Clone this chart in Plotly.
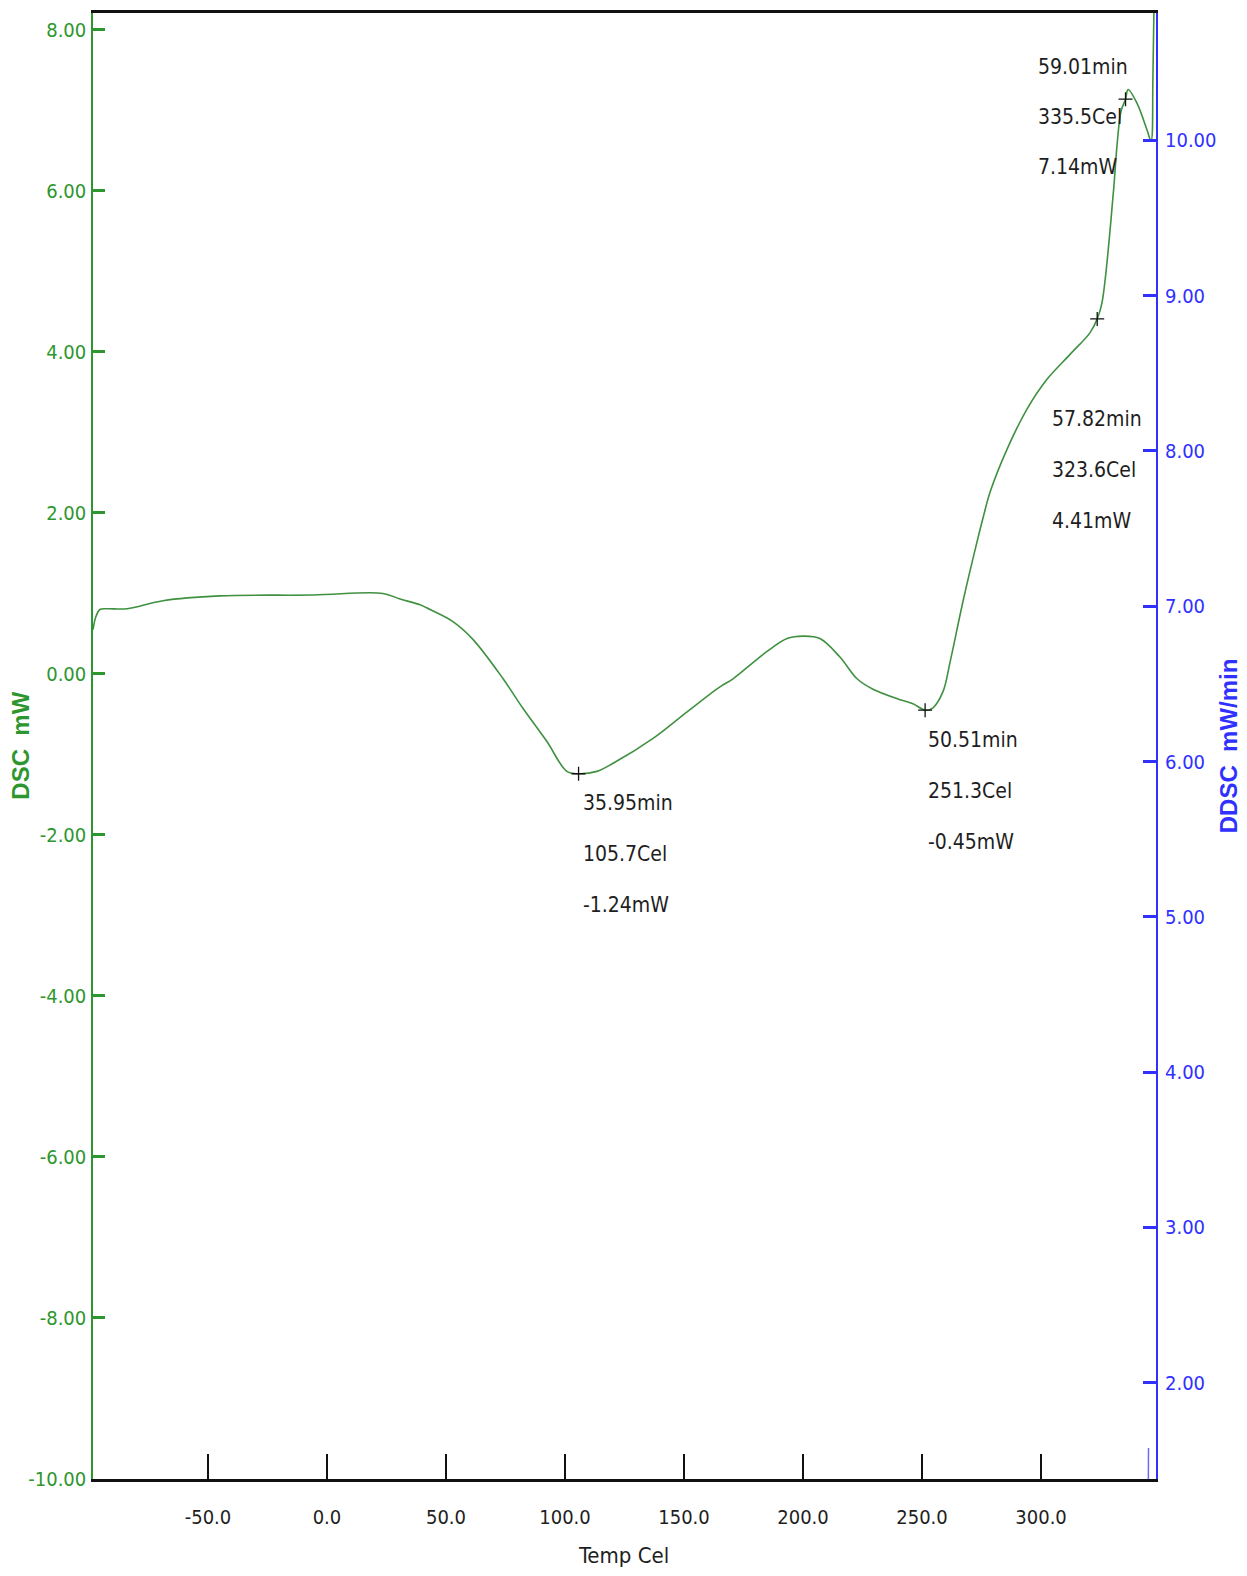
import plotly.graph_objects as go

# DSC heat-flow curve (temperature in Cel, heat flow in mW)
temp_c = [-98.3, -97.1, -95.4, -92.4, -84.0, -68.9, -45.0, -5.9, 23.5, 30.7,
          39.1, 43.3, 52.9, 61.3, 74.0, 82.4, 92.4, 100.8, 105.7, 113.4,
          120.2, 137.0, 151.3, 165.1, 170.6, 184.9, 193.3, 200.0, 207.1, 215.5,
          222.7, 229.4, 240.8, 246.2, 251.3, 254.6, 258.8, 261.8, 267.2, 273.1,
          276.0, 278.6, 285.7, 294.1, 302.5, 312.2, 320.6, 323.6, 325.6, 330.3,
          332.0, 333.6, 335.5, 336.6, 340.3, 344.5, 346.2, 347.0, 347.6, 348.2]
dsc_mw = [0.55, 0.71, 0.80, 0.81, 0.81, 0.91, 0.97, 0.98, 1.00, 0.93,
          0.86, 0.80, 0.65, 0.43, -0.06, -0.43, -0.84, -1.21, -1.24, -1.21,
          -1.11, -0.80, -0.47, -0.16, -0.06, 0.28, 0.44, 0.47, 0.44, 0.21,
          -0.06, -0.19, -0.32, -0.37, -0.45, -0.42, -0.22, 0.15, 0.90, 1.64,
          1.98, 2.26, 2.79, 3.29, 3.66, 3.97, 4.24, 4.41, 4.61, 5.95,
          6.59, 6.99, 7.14, 7.26, 7.09, 6.76, 6.62, 7.40, 8.60, 10.0]

# DDSC curve (mW/min) – only its tail reaches the visible range
ddsc_temp = [345.05, 345.15]
ddsc_val = [1.20, 1.58]

# Peak / event labels
peak_time = ["35.95min", "50.51min", "57.82min", "59.01min"]
peak_temp = [105.7, 251.3, 323.6, 335.5]
peak_mw = [-1.24, -0.45, 4.41, 7.14]

x_ticks = [-50, 0, 50, 100, 150, 200, 250, 300]
y_ticks = [-10, -8, -6, -4, -2, 0, 2, 4, 6, 8]
y2_ticks = [2, 3, 4, 5, 6, 7, 8, 9, 10]

GREEN = "#2e962e"
CURVE = "#3f9140"
BLUE = "#3030ff"
NARROW = "DejaVu Sans Condensed, Liberation Sans Narrow, sans-serif"
BOLD_SANS = "Liberation Sans, Arial, sans-serif"

fig = go.Figure()

fig.add_trace(go.Scatter(
    x=temp_c, y=dsc_mw, mode="lines",
    line=dict(color=CURVE, width=1.6, shape="spline", smoothing=1.0),
    hoverinfo="skip", showlegend=False))

fig.add_trace(go.Scatter(
    x=ddsc_temp, y=ddsc_val, mode="lines", yaxis="y2",
    line=dict(color="#6a6aff", width=1.5),
    hoverinfo="skip", showlegend=False))

fig.add_trace(go.Scatter(
    x=peak_temp, y=peak_mw, mode="markers",
    marker=dict(symbol="cross-thin", size=10, line=dict(color="#111111", width=1.3)),
    hoverinfo="skip", showlegend=False))

# Three-line labels next to each marked point: (dx, [dy per line])
label_offsets = [
    (2, [-29, -80, -131]),
    (1, [-30, -81, -132]),
    (-47, [-100, -151, -202]),
    (-90, [32, -18, -68]),
]
annotations = []
for t, c, m, (dx, dys) in zip(peak_time, peak_temp, peak_mw, label_offsets):
    lines = [t, f"{c:.1f}Cel", f"{m:.2f}mW"]
    for txt, dy in zip(lines, dys):
        annotations.append(dict(
            x=c, y=m, xref="x", yref="y", text=txt, showarrow=False,
            xanchor="left", yanchor="middle", xshift=dx, yshift=dy,
            font=dict(family=NARROW, size=21, color="#1e1e1e")))

# Axis titles
annotations.append(dict(
    x=-0.069, y=0.5, xref="paper", yref="paper", text="<b>DSC  mW</b>",
    textangle=-90, showarrow=False, xanchor="center", yanchor="middle",
    font=dict(family=BOLD_SANS, size=24, color=GREEN)))
annotations.append(dict(
    x=1.068, y=0.5, xref="paper", yref="paper", text="<b>DDSC  mW/min</b>",
    textangle=-90, showarrow=False, xanchor="center", yanchor="middle",
    font=dict(family=BOLD_SANS, size=24, color=BLUE)))
annotations.append(dict(
    x=0.499, y=-0.052, xref="paper", yref="paper", text="Temp Cel",
    showarrow=False, xanchor="center", yanchor="middle",
    font=dict(family=NARROW, size=22, color="#1e1e1e")))

fig.update_layout(
    width=1247, height=1576,
    margin=dict(l=93, r=91, t=10, b=97),
    paper_bgcolor="white", plot_bgcolor="white",
    annotations=annotations,
    xaxis=dict(
        range=[-98.3, 348.3], tickvals=x_ticks,
        ticktext=[f"{v:.1f}" for v in x_ticks],
        ticks="inside", ticklen=25, tickwidth=1.5, tickcolor="#111111",
        showline=True, linecolor="#111111", linewidth=2.5, mirror=True,
        showgrid=False, zeroline=False, ticklabelstandoff=18,
        tickfont=dict(family=NARROW, size=20, color="#1e1e1e")),
    yaxis=dict(
        range=[-10, 8.21], tickvals=y_ticks,
        ticktext=[f"{v:.2f}" for v in y_ticks],
        ticks="inside", ticklen=12, tickwidth=2.5, tickcolor=GREEN,
        showline=True, linecolor=GREEN, linewidth=1.5,
        showgrid=False, zeroline=False, ticklabelstandoff=1,
        tickfont=dict(family=NARROW, size=20, color=GREEN)),
    yaxis2=dict(
        range=[1.38, 10.82], tickvals=y2_ticks,
        ticktext=[f"{v:.2f}" for v in y2_ticks],
        overlaying="y", side="right", anchor="x",
        ticks="inside", ticklen=13, tickwidth=2.5, tickcolor=BLUE,
        showline=True, linecolor=BLUE, linewidth=2,
        showgrid=False, zeroline=False, ticklabelstandoff=3,
        tickfont=dict(family=NARROW, size=20, color=BLUE)),
)

fig.write_html("out.html")
